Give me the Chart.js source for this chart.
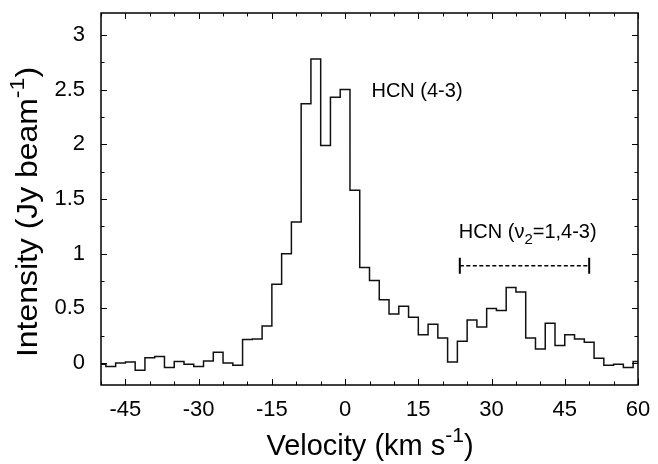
<!DOCTYPE html>
<html>
<head>
<meta charset="utf-8">
<title>HCN spectrum</title>
<script src="https://cdn.jsdelivr.net/npm/chart.js@4.4.1/dist/chart.umd.min.js"></script>
<style>
  html, body { margin: 0; padding: 0; background: #fff; }
  canvas { display: block; }
</style>
</head>
<body>
<canvas id="spectrum" width="658" height="464"></canvas>
<script>
// channel centres (km/s) and measured intensity (Jy/beam)
const velocity = [
  -50, -48, -46, -44, -42, -40, -38, -36, -34, -32, -30, -28, -26, -24, -22, -20,
  -18, -16, -14, -12, -10, -8, -6, -4, -2, 0, 2, 4, 6, 8, 10, 12, 14, 16, 18, 20,
  22, 24, 26, 28, 30, 32, 34, 36, 38, 40, 42, 44, 46, 48, 50, 52, 54, 56, 58, 60
];
const intensity = [
  -0.01, -0.03, 0.00, 0.01, -0.065, 0.05, 0.06, -0.04, 0.015, -0.01, -0.03, 0.02, 0.10, 0.00, -0.02, 0.215,
  0.22, 0.34, 0.72, 1.00, 1.29, 2.37, 2.78, 1.99, 2.43, 2.50, 1.58, 0.875, 0.754, 0.58, 0.45, 0.52, 0.42, 0.26, 0.355, 0.23,
  0.01, 0.20, 0.395, 0.33, 0.50, 0.48, 0.69, 0.65, 0.23, 0.13, 0.365, 0.16, 0.26, 0.22, 0.19, 0.045, -0.02, -0.01, -0.04, 0.015
];

const xTickLabels = [-45, -30, -15, 0, 15, 30, 45, 60];
const yTickLabels = [0, 0.5, 1, 1.5, 2, 2.5, 3];

// velocity range of the vibrationally excited line
const vibRange = [23.5, 50];
const vibLevel = 0.89;

const FONT = '"Liberation Sans", Arial, Helvetica, sans-serif';

// draws a run of text pieces (for superscripts / subscripts), left to right
function drawPieces(ctx, pieces, x, y, align) {
  let total = 0;
  pieces.forEach(p => {
    ctx.font = p.size + 'px ' + FONT;
    p.w = ctx.measureText(p.text).width;
    total += p.w;
  });
  let cx = align === 'center' ? x - total / 2 : x;
  pieces.forEach(p => {
    ctx.font = p.size + 'px ' + FONT;
    ctx.fillText(p.text, cx, y + (p.dy || 0));
    cx += p.w;
  });
}

// keep the plot box where we put it, labels may hang over the edges
function noPadding(s) {
  s.paddingLeft = 0; s.paddingRight = 0;
  s.paddingTop = 0; s.paddingBottom = 0;
}

const framePlugin = {
  id: 'framePlugin',
  afterDatasetsDraw(chart) {
    const { ctx, chartArea: a, scales: { x, y } } = chart;
    ctx.save();
    ctx.strokeStyle = '#000';

    // inward ticks on all four sides
    ctx.lineWidth = 1;
    ctx.beginPath();
    for (let v = -50; v <= 60; v += 5) {
      const px = Math.round(x.getPixelForValue(v)) + 0.5;
      const len = v % 15 === 0 ? 6 : 3.5;
      ctx.moveTo(px, a.bottom); ctx.lineTo(px, a.bottom - len);
      ctx.moveTo(px, a.top); ctx.lineTo(px, a.top + len);
    }
    for (let v = 0; v <= 3.001; v += 0.25) {
      const py = Math.round(y.getPixelForValue(v)) + 0.5;
      const len = Math.abs(v * 2 - Math.round(v * 2)) < 1e-6 ? 6 : 3.5;
      ctx.moveTo(a.left, py); ctx.lineTo(a.left + len, py);
      ctx.moveTo(a.right, py); ctx.lineTo(a.right - len, py);
    }
    ctx.stroke();

    ctx.lineWidth = 1.5;
    ctx.strokeRect(a.left, a.top, a.right - a.left, a.bottom - a.top);

    // dashed range bar with end caps
    const x0 = x.getPixelForValue(vibRange[0]);
    const x1 = x.getPixelForValue(vibRange[1]);
    const yb = y.getPixelForValue(vibLevel);
    ctx.lineWidth = 1.5;
    ctx.setLineDash([4, 2.5]);
    ctx.beginPath();
    ctx.moveTo(x0, yb); ctx.lineTo(x1, yb);
    ctx.stroke();
    ctx.setLineDash([]);
    ctx.lineWidth = 2;
    ctx.beginPath();
    ctx.moveTo(x0, yb - 8); ctx.lineTo(x0, yb + 8);
    ctx.moveTo(x1, yb - 8); ctx.lineTo(x1, yb + 8);
    ctx.stroke();

    // line labels
    ctx.fillStyle = '#000';
    ctx.textBaseline = 'alphabetic';
    ctx.textAlign = 'left';
    drawPieces(ctx, [{ text: 'HCN (4-3)', size: 20 }],
      x.getPixelForValue(5.4), y.getPixelForValue(2.43), 'left');
    drawPieces(ctx, [
      { text: 'HCN (\u03bd', size: 20 },
      { text: '2', size: 15, dy: 6 },
      { text: '=1,4-3)', size: 20 }
    ], x.getPixelForValue(23.3), y.getPixelForValue(1.14), 'left');

    // axis titles
    drawPieces(ctx, [
      { text: 'Velocity (km s', size: 29 },
      { text: '-1', size: 21, dy: -13 },
      { text: ')', size: 29 }
    ], 370, 455, 'center');

    ctx.translate(37, 212);
    ctx.rotate(-Math.PI / 2);
    ctx.scale(1.1, 1);
    drawPieces(ctx, [
      { text: 'Intensity (Jy beam', size: 29 },
      { text: '-1', size: 21, dy: -13 },
      { text: ')', size: 29 }
    ], 0, 0, 'center');
    ctx.restore();
  }
};

new Chart(document.getElementById('spectrum'), {
  type: 'line',
  data: {
    datasets: [{
      data: velocity.map((v, i) => ({ x: v, y: intensity[i] })),
      stepped: 'middle',
      borderColor: '#111',
      borderWidth: 1.5,
      pointRadius: 0,
      fill: false
    }]
  },
  options: {
    responsive: false,
    devicePixelRatio: 1,
    animation: false,
    layout: { padding: { top: 13, right: 20, left: 0, bottom: 0 } },
    plugins: { legend: { display: false }, tooltip: { enabled: false } },
    scales: {
      x: {
        type: 'linear',
        min: -50,
        max: 60,
        grid: { display: false, drawTicks: false },
        border: { display: false },
        afterBuildTicks: s => { s.ticks = xTickLabels.map(v => ({ value: v })); },
        afterFit: s => { s.height = 79; noPadding(s); },
        ticks: {
          autoSkip: false,
          maxRotation: 0,
          padding: 12,
          color: '#000',
          font: { family: FONT, size: 22 },
          callback: v => String(v)
        }
      },
      y: {
        type: 'linear',
        min: -0.2,
        max: 3.2,
        grid: { display: false, drawTicks: false },
        border: { display: false },
        afterBuildTicks: s => { s.ticks = yTickLabels.map(v => ({ value: v })); },
        afterFit: s => { s.width = 101; noPadding(s); },
        ticks: {
          padding: 16,
          color: '#000',
          font: { family: FONT, size: 22 },
          callback: v => String(v)
        }
      }
    }
  },
  plugins: [framePlugin]
});
</script>
</body>
</html>
